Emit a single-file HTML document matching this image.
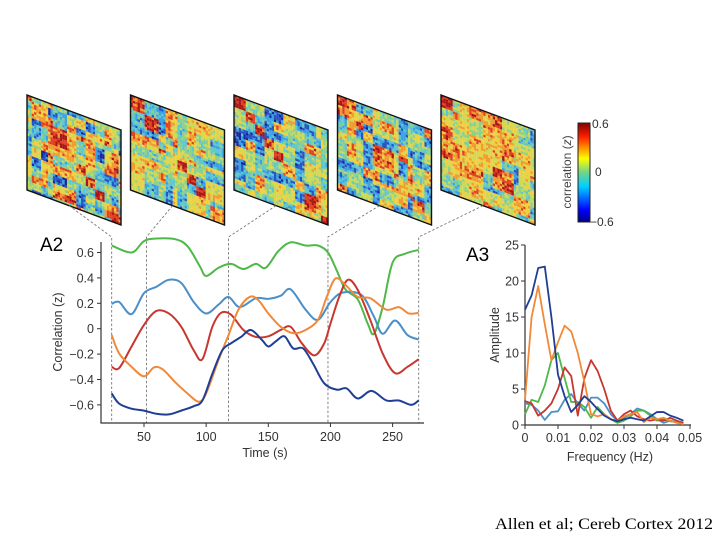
<!DOCTYPE html>
<html><head><meta charset="utf-8"><style>
body{margin:0;background:#fff;}
svg{display:block;font-family:"Liberation Sans",sans-serif;}
</style></head><body>
<svg id="fig" width="720" height="540" viewBox="0 0 720 540">
<defs>
<linearGradient id="jet" x1="0" y1="1" x2="0" y2="0">
<stop offset="0" stop-color="#00007f"/><stop offset="0.12" stop-color="#0000ff"/><stop offset="0.36" stop-color="#00d0ff"/><stop offset="0.5" stop-color="#6fd58a"/><stop offset="0.64" stop-color="#ffff00"/><stop offset="0.86" stop-color="#ff2000"/><stop offset="1" stop-color="#7f0000"/>
</linearGradient>
</defs>
<g id="mats"></g>
<g id="conn"></g>
<g>
<rect x="578" y="123" width="12" height="99" fill="url(#jet)" stroke="#222" stroke-width="1"/>
<text x="592" y="128" font-size="12" fill="#333">0.6</text>
<text x="595" y="176" font-size="12" fill="#333">0</text>
<text x="590" y="226" font-size="12" fill="#333">−0.6</text>
<text transform="translate(571,172) rotate(-90)" text-anchor="middle" font-size="12" fill="#444">correlation (<tspan font-style="italic">z</tspan>)</text>
</g>
<g id="a2"></g>
<g id="a3"></g>
<text x="495" y="529" textLength="218" lengthAdjust="spacingAndGlyphs" font-family="'Liberation Serif',serif" font-size="15.8" fill="#000">Allen et al; Cereb Cortex 2012</text>
</svg>
<script>
// A2 data (time in s, correlation z)
const greenT=[24,40,50,60,75,85,95,100,110,120,130,140,148,158,168,180,190,198,205,212,222,230,235,242,250,260,271];
const greenV=[0.655,0.6,0.69,0.71,0.705,0.65,0.49,0.415,0.48,0.51,0.47,0.51,0.48,0.61,0.68,0.655,0.655,0.6,0.46,0.31,0.23,0.04,-0.04,0.17,0.52,0.59,0.62];
const lblueT=[24,30,40,50,60,70,80,90,100,110,118,127,140,150,160,168,180,190,200,210,225,235,242,252,262,271];
const lblueV=[0.195,0.21,0.115,0.28,0.33,0.385,0.36,0.21,0.12,0.19,0.25,0.17,0.24,0.235,0.26,0.31,0.15,0.07,0.21,0.285,0.265,0.095,-0.04,0.065,-0.05,-0.085];
const redT=[24,30,40,50,60,70,80,90,97,105,112,120,130,140,150,160,168,177,187,195,200,207,214,222,232,242,252,262,271];
const redV=[-0.3,-0.31,-0.14,0.03,0.14,0.12,0.015,-0.17,-0.24,0.015,0.125,0.11,-0.01,-0.065,-0.06,-0.01,0.015,-0.115,-0.21,-0.115,0.04,0.25,0.385,0.305,0.07,-0.195,-0.35,-0.3,-0.24];
const orangeT=[24,30,40,50,58,65,75,85,94,100,110,118,126,135,142,150,160,170,180,190,197,204,212,222,232,245,255,263,271];
const orangeV=[-0.05,-0.195,-0.3,-0.375,-0.305,-0.32,-0.42,-0.51,-0.575,-0.51,-0.245,-0.05,0.15,0.25,0.225,0.12,0.015,-0.035,-0.01,0.07,0.25,0.395,0.345,0.25,0.24,0.15,0.17,0.12,0.125];
const dblueT=[24,30,40,50,60,70,80,90,97,105,113,120,128,136,145,150,156,163,170,178,186,195,205,213,222,233,245,255,265,271];
const dblueV=[-0.51,-0.59,-0.63,-0.645,-0.67,-0.675,-0.645,-0.61,-0.565,-0.355,-0.17,-0.115,-0.065,-0.01,-0.09,-0.14,-0.1,-0.06,-0.155,-0.155,-0.275,-0.43,-0.48,-0.47,-0.55,-0.49,-0.565,-0.565,-0.6,-0.565];
const a2XTicks=[50,100,150,200,250];
const a2YTicks=[0.6,0.4,0.2,0,-0.2,-0.4,-0.6];
const a2YLabels=["0.6","0.4","0.2","0","−0.2","−0.4","−0.6"];
const windowTimes=[24,52,118,198,271];
// A3 data
const freqs=[0,0.002,0.004,0.006,0.008,0.010,0.012,0.014,0.016,0.018,0.020,0.022,0.024,0.026,0.028,0.030,0.032,0.034,0.036,0.038,0.040,0.042,0.044,0.046,0.048];
const ampDblue=[16,18,21.8,22,15,7,4,1.8,2.8,4,3.2,2.2,1.3,0.8,0.5,0.8,1,0.8,0.6,1.2,1.8,1.8,1.3,1,0.6];
const ampOrange=[3.5,15,19.3,14,9,11.5,13.8,13,10,6,1.5,1.2,1.5,0.8,0.5,1.2,1.5,1.8,0.4,1,0.8,1,0.6,0.3,0.1];
const ampGreen=[1.5,3.5,3.2,5.5,9,10,6.5,3.2,3.2,2.5,1,2.5,1.5,0.8,0.3,0.6,1.2,2,2,1.3,0.6,0.8,0.5,0.4,0.3];
const ampRed=[3.3,3,1.3,2,3,5,8,6.8,1.3,6.5,9,7.5,5,2,0.6,1.5,2,1.2,0.8,0.6,0.8,0.6,1,0.6,0.3];
const ampLblue=[3,2.8,2,0.7,1.8,1.9,3.5,4.3,3,2,3.8,3.8,3,1.5,0.6,1,1.5,2.3,2,1.5,0.8,0.3,0.6,0.4,0.3];
const a3XTicks=[0,0.01,0.02,0.03,0.04,0.05];
const a3XLabels=["0","0.01","0.02","0.03","0.04","0.05"];
const a3YTicks=[0,5,10,15,20,25];

const NS="http://www.w3.org/2000/svg";
function mk(tag,attrs,parent,txt){const e=document.createElementNS(NS,tag);for(const k in attrs)e.setAttribute(k,attrs[k]);if(txt!==undefined)e.textContent=txt;parent.appendChild(e);return e;}
const C={green:"#4eb848",lblue:"#4a8fc8",red:"#c8362e",orange:"#f08a3a",dblue:"#1f3f94"};

const ax=t=>144+(t-50)*1.243;
const ay=v=>328.7-v*127;
function smooth(pts){let d="M"+pts[0][0]+","+pts[0][1];for(let i=0;i<pts.length-1;i++){const p0=pts[Math.max(0,i-1)],p1=pts[i],p2=pts[i+1],p3=pts[Math.min(pts.length-1,i+2)];d+=" C"+(p1[0]+(p2[0]-p0[0])/6)+","+(p1[1]+(p2[1]-p0[1])/6)+" "+(p2[0]-(p3[0]-p1[0])/6)+","+(p2[1]-(p3[1]-p1[1])/6)+" "+p2[0]+","+p2[1];}return d;}
const a2=document.getElementById('a2');
let t=mk('text',{x:40,y:251,'font-size':19,fill:'#000'},a2,'A2');


let l=mk('path',{d:'M101,242 V423 H424',fill:'none',stroke:'#333','stroke-width':1.2},a2);


a2YTicks.forEach((v,i)=>{
  mk('line',{x1:97,x2:101,y1:ay(v),y2:ay(v),stroke:'#333'},a2);
  const tx=mk('text',{x:94,y:ay(v)+4.5,'text-anchor':'end','font-size':12.5,fill:'#333'},a2,a2YLabels[i]);
  
  
});
a2XTicks.forEach(v=>{
  mk('line',{x1:ax(v),x2:ax(v),y1:423,y2:427,stroke:'#333'},a2);
  const tx=mk('text',{x:ax(v),y:441,'text-anchor':'middle','font-size':12.5,fill:'#333'},a2,String(v));
  
  
});
t=mk('text',{x:265,y:457,'text-anchor':'middle','font-size':12.5,fill:'#333'},a2,'Time (s)');


t=mk('text',{transform:'translate(62,332) rotate(-90)','text-anchor':'middle','font-size':12.5,fill:'#333'},a2,'Correlation (z)');



// matrices + connectors (decorative texture)
const mats=document.getElementById('mats'),conn=document.getElementById('conn');
let seed=11;function rnd(){seed=(seed*16807)%2147483647;return seed/2147483647;}
const pal=["#16249a","#2452c4","#3aa0e0","#5cc6d0","#8ccf8a","#c8da58","#f0d040","#f09a30","#e04020","#a81414"];
const N=40;
windowTimes.forEach((wt,k)=>{
  const x0=27+k*103.5,y0=95;
  const g=mk('g',{transform:`matrix(${94/N},${35/N},0,${95/N},${x0},${y0})`},mats);
  
  
  const mod=[];let m=0,c=0,len=2+Math.floor(rnd()*5);
  for(let i=0;i<N;i++){mod.push(m);c++;if(c>=len){m++;c=0;len=2+Math.floor(rnd()*5);}}
  const base=[];for(let a=0;a<=m;a++){base.push([]);for(let b=0;b<=m;b++)base[a].push(b<a?base[b][a]:(rnd()-0.5)*2.6);}
  for(let i=0;i<N;i++)for(let j=0;j<N;j++){
    let v=base[mod[i]][mod[j]]*0.85+(rnd()-0.5)*0.9;
    if(mod[i]===mod[j])v=Math.abs(v)+0.4;
    let idx=Math.round(4.5+v*3);idx=Math.max(0,Math.min(9,idx));
    mk('rect',{x:j,y:i,width:1.03,height:1.03,fill:pal[idx]},g);
  }
  mk('rect',{x:0,y:0,width:N,height:N,fill:'none',stroke:'#111','stroke-width':0.6},g);
  const bx=x0+42,by=y0+95+42*35/94;
  const p=mk('path',{d:`M${bx},${by} L${ax(wt)},237 V423`,fill:'none',stroke:'#777','stroke-width':0.9,'stroke-dasharray':'2.5,2'},conn);
  
  
});

[[greenT,greenV,C.green,'green'],[lblueT,lblueV,C.lblue,'light-blue'],[redT,redV,C.red,'red'],[orangeT,orangeV,C.orange,'orange'],[dblueT,dblueV,C.dblue,'dark-blue']].forEach(([T,V,c,n])=>{
  const pts=T.map((tt,i)=>[ax(tt),ay(V[i])]);
  const p=mk('path',{d:smooth(pts),fill:'none',stroke:c,'stroke-width':2},a2);
  
  
});

// A3
const a3=document.getElementById('a3');
const fx=f=>525+f*3300;
const fy=v=>425-v*7.2;
t=mk('text',{x:466,y:261,'font-size':19,fill:'#000'},a3,'A3');


l=mk('path',{d:'M525,245 V425 H691',fill:'none',stroke:'#333','stroke-width':1.2},a3);


a3YTicks.forEach(v=>{
  mk('line',{x1:521,x2:525,y1:fy(v),y2:fy(v),stroke:'#333'},a3);
  const tx=mk('text',{x:519,y:fy(v)+4.5,'text-anchor':'end','font-size':12.5,fill:'#333'},a3,String(v));
  
  
});
a3XTicks.forEach((v,i)=>{
  mk('line',{x1:fx(v),x2:fx(v),y1:425,y2:429,stroke:'#333'},a3);
  const tx=mk('text',{x:fx(v),y:442,'text-anchor':'middle','font-size':12.5,fill:'#333'},a3,a3XLabels[i]);
  
  
});
t=mk('text',{x:610,y:461,'text-anchor':'middle','font-size':12.5,fill:'#333'},a3,'Frequency (Hz)');


t=mk('text',{transform:'translate(499,335) rotate(-90)','text-anchor':'middle','font-size':12.5,fill:'#333'},a3,'Amplitude');


[[ampLblue,C.lblue,'light-blue'],[ampGreen,C.green,'green'],[ampRed,C.red,'red'],[ampOrange,C.orange,'orange'],[ampDblue,C.dblue,'dark-blue']].forEach(([A,c,n])=>{
  const p=mk('polyline',{points:A.map((a,i)=>fx(freqs[i])+','+fy(a)).join(' '),fill:'none',stroke:c,'stroke-width':1.8,'stroke-linejoin':'round'},a3);
  
  
});
</script>
</body></html>
